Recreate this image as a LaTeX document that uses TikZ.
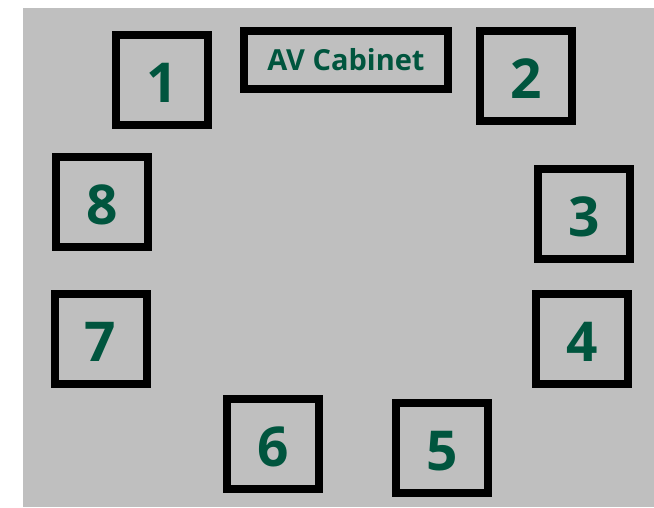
\documentclass[tikz,border=0pt]{standalone}
\usepackage{fontspec}
\setmainfont{Open Sans}
\usepackage{tikz}
\definecolor{seatgreen}{RGB}{0,85,62}
\definecolor{floorgray}{RGB}{191,191,191}
\newcommand{\seatno}[1]{\raisebox{-3pt}[\height][0pt]{#1}}

\begin{document}
\begin{tikzpicture}[x=1pt,y=-1pt]
\tikzstyle{every node}+=[inner sep=0pt]
\tikzstyle{seat}=[draw=black, line width=8pt, minimum width=92pt, minimum height=90pt,
  text=seatgreen, font=\fontsize{55}{55}\selectfont\bfseries]
\tikzstyle{cabinet}=[draw=black, line width=8pt, minimum width=204pt, minimum height=58pt,
  text=seatgreen, font=\fontsize{29}{29}\selectfont\bfseries]
\useasboundingbox (0,0) rectangle (654,507);
\fill [floorgray] (23,8) rectangle (654,507);
\node [cabinet] (av) at (346,60) {AV Cabinet};
\node [seat] (s1) at (162,80) {\seatno{1}};
\node [seat] (s2) at (526,76) {\seatno{2}};
\node [seat] (s3) at (584,214) {\seatno{3}};
\node [seat] (s4) at (582,339) {\seatno{4}};
\node [seat] (s5) at (442,448) {\seatno{5}};
\node [seat] (s6) at (273,444) {\seatno{6}};
\node [seat] (s7) at (100.5,339) {\seatno{7}};
\node [seat] (s8) at (102,202) {\seatno{8}};
\end{tikzpicture}
\end{document}
